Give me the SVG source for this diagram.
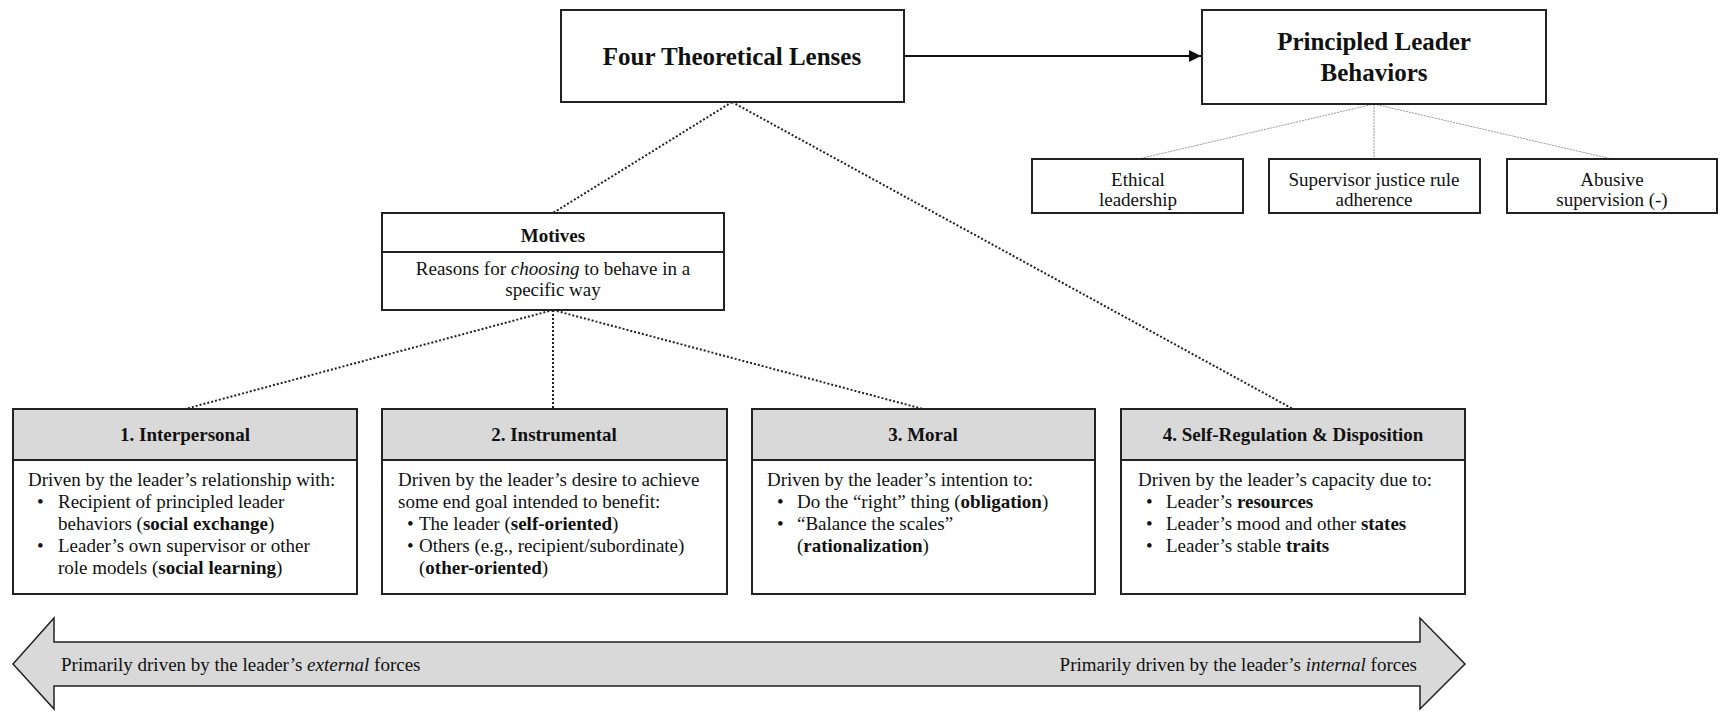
<svg xmlns="http://www.w3.org/2000/svg" width="1732" height="720" viewBox="0 0 1732 720">
<defs>
<style>
text{font-family:"Liberation Serif","Times New Roman",serif;fill:#111;}
.box{fill:#fff;stroke:#222;stroke-width:2;}
.hdr{fill:#d9d9d9;stroke:#222;stroke-width:2;}
.t25{font-size:25px;font-weight:bold;text-anchor:middle;}
.t19{font-size:19px;}
.c{text-anchor:middle;}
.b{font-weight:bold;}
.i{font-style:italic;}
.dot{fill:none;stroke:#222;stroke-width:2;stroke-dasharray:2 2;}
.gray{fill:none;stroke:#999;stroke-width:1;stroke-dasharray:2 1;}
.solid{fill:none;stroke:#111;stroke-width:2;}
</style>
<marker id="ah" viewBox="0 0 10 10" refX="10" refY="5" markerWidth="6" markerHeight="6" orient="auto" markerUnits="strokeWidth">
<path d="M0,0 L10,5 L0,10 z" fill="#111"/>
</marker>
</defs>
<rect width="1732" height="720" fill="#fff"/>

<g id="connectors">
<line class="solid" x1="904" y1="56" x2="1201" y2="56" marker-end="url(#ah)"/>
<line class="dot" x1="732" y1="102" x2="553" y2="213"/>
<line class="dot" x1="732" y1="102" x2="1293" y2="409"/>
<line class="dot" x1="553" y1="310" x2="185" y2="409"/>
<line class="dot" x1="553" y1="310" x2="553" y2="409"/>
<line class="dot" x1="553" y1="310" x2="923" y2="409"/>
<line class="gray" x1="1374" y1="104" x2="1138" y2="159"/>
<line class="gray" x1="1374" y1="104" x2="1374" y2="159"/>
<line class="gray" x1="1374" y1="104" x2="1612" y2="159"/>
</g>

<g id="four-lenses">
<rect class="box" x="561" y="10" width="343" height="92"/>
<text class="t25" x="732" y="65">Four Theoretical Lenses</text>
</g>

<g id="principled-leader-behaviors">
<rect class="box" x="1202" y="10" width="344" height="94"/>
<text class="t25" x="1374" y="50">Principled Leader</text>
<text class="t25" x="1374" y="81">Behaviors</text>
</g>

<g id="ethical-leadership">
<rect class="box" x="1032" y="159" width="211" height="54"/>
<text class="t19 c" x="1138" y="186">Ethical</text>
<text class="t19 c" x="1138" y="206">leadership</text>
</g>

<g id="supervisor-justice">
<rect class="box" x="1269" y="159" width="211" height="54"/>
<text class="t19 c" x="1374" y="186">Supervisor justice rule</text>
<text class="t19 c" x="1374" y="206">adherence</text>
</g>

<g id="abusive-supervision">
<rect class="box" x="1507" y="159" width="210" height="54"/>
<text class="t19 c" x="1612" y="186">Abusive</text>
<text class="t19 c" x="1612" y="206">supervision (-)</text>
</g>

<g id="motives">
<rect class="box" x="382" y="213" width="342" height="97"/>
<line x1="382" y1="252" x2="724" y2="252" stroke="#222" stroke-width="2"/>
<text class="t19 c b" x="553" y="242">Motives</text>
<text class="t19 c" x="553" y="275">Reasons for <tspan class="i">choosing</tspan> to behave in a</text>
<text class="t19 c" x="553" y="296">specific way</text>
</g>

<g id="interpersonal">
<rect class="box" x="13" y="409" width="344" height="185"/>
<rect class="hdr" x="13" y="409" width="344" height="51"/>
<text class="t19 c b" x="185" y="441">1. Interpersonal</text>
<text class="t19" x="28" y="486">Driven by the leader’s relationship with:</text>
<text class="t19" x="37" y="508">•</text>
<text class="t19" x="58" y="508">Recipient of principled leader</text>
<text class="t19" x="58" y="530">behaviors (<tspan class="b">social exchange</tspan>)</text>
<text class="t19" x="37" y="552">•</text>
<text class="t19" x="58" y="552">Leader’s own supervisor or other</text>
<text class="t19" x="58" y="574">role models (<tspan class="b">social learning</tspan>)</text>
</g>

<g id="instrumental">
<rect class="box" x="382" y="409" width="345" height="185"/>
<rect class="hdr" x="382" y="409" width="345" height="51"/>
<text class="t19 c b" x="554" y="441">2. Instrumental</text>
<text class="t19" x="398" y="486">Driven by the leader’s desire to achieve</text>
<text class="t19" x="398" y="508">some end goal intended to benefit:</text>
<text class="t19" x="407" y="530">•</text>
<text class="t19" x="419" y="530">The leader (<tspan class="b">self-oriented</tspan>)</text>
<text class="t19" x="407" y="552">•</text>
<text class="t19" x="419" y="552">Others (e.g., recipient/subordinate)</text>
<text class="t19" x="419" y="574">(<tspan class="b">other-oriented</tspan>)</text>
</g>

<g id="moral">
<rect class="box" x="752" y="409" width="343" height="185"/>
<rect class="hdr" x="752" y="409" width="343" height="51"/>
<text class="t19 c b" x="923" y="441">3. Moral</text>
<text class="t19" x="767" y="486">Driven by the leader’s intention to:</text>
<text class="t19" x="777" y="508">•</text>
<text class="t19" x="797" y="508">Do the “right” thing (<tspan class="b">obligation</tspan>)</text>
<text class="t19" x="777" y="530">•</text>
<text class="t19" x="797" y="530">“Balance the scales”</text>
<text class="t19" x="797" y="552">(<tspan class="b">rationalization</tspan>)</text>
</g>

<g id="self-regulation">
<rect class="box" x="1121" y="409" width="344" height="185"/>
<rect class="hdr" x="1121" y="409" width="344" height="51"/>
<text class="t19 c b" x="1293" y="441">4. Self-Regulation &amp; Disposition</text>
<text class="t19" x="1138" y="486">Driven by the leader’s capacity due to:</text>
<text class="t19" x="1146" y="508">•</text>
<text class="t19" x="1166" y="508">Leader’s <tspan class="b">resources</tspan></text>
<text class="t19" x="1146" y="530">•</text>
<text class="t19" x="1166" y="530">Leader’s mood and other <tspan class="b">states</tspan></text>
<text class="t19" x="1146" y="552">•</text>
<text class="t19" x="1166" y="552">Leader’s stable <tspan class="b">traits</tspan></text>
</g>

<g id="continuum-arrow">
<path d="M13,664 L54,618 L54,642 L1420,642 L1420,618 L1465,664 L1420,709 L1420,686 L54,686 L54,709 Z" fill="#d9d9d9" stroke="#222" stroke-width="1.5" stroke-linejoin="miter"/>
<text class="t19" x="61" y="671">Primarily driven by the leader’s <tspan class="i">external</tspan> forces</text>
<text class="t19" x="1417" y="671" text-anchor="end">Primarily driven by the leader’s <tspan class="i">internal</tspan> forces</text>
</g>
</svg>
